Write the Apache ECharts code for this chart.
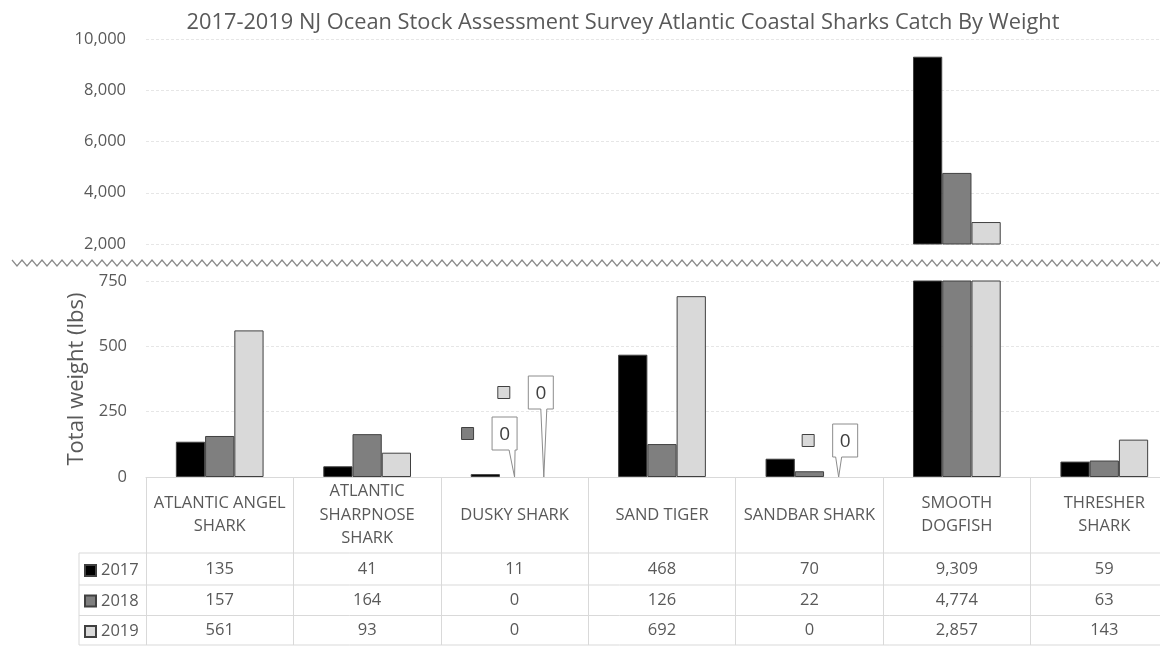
<!DOCTYPE html>
<html>
<head>
<meta charset="utf-8">
<script src="https://cdn.jsdelivr.net/npm/echarts@6/dist/echarts.min.js"></script>
<style>
  html, body { margin: 0; padding: 0; background: #ffffff; }
  #chart { width: 1160px; height: 646px; }
</style>
</head>
<body>
<div id="chart"></div>
<script>
// Species (table header text, line breaks as printed)
const categories = [
  'ATLANTIC ANGEL\nSHARK',
  'ATLANTIC\nSHARPNOSE\nSHARK',
  'DUSKY SHARK',
  'SAND TIGER',
  'SANDBAR SHARK',
  'SMOOTH\nDOGFISH',
  'THRESHER\nSHARK'
];
const years = ['2017', '2018', '2019'];

// Total catch weight (lbs)
const catch2017 = [135, 41, 11, 468, 70, 9309, 59];
const catch2018 = [157, 164, 0, 126, 22, 4774, 63];
const catch2019 = [561, 93, 0, 692, 0, 2857, 143];

// Broken value axis: upper panel and lower panel ticks
const upperTicks = [2000, 4000, 6000, 8000, 10000];
const lowerTicks = [0, 250, 500, 750];

// ---- styling ----
const FONT = "'Open Sans', sans-serif";
const TEXT = '#595959';
const yearColors = ['#000000', '#7f7f7f', '#d9d9d9'];
const barEdge = '#404040';
const tableLine = '#d9d9d9';
const GAP = 0.405;           // category gap ratio
const GRID_LEFT = 146;
const GRID_WIDTH = 1032;

// Where the zero-value callouts sit relative to their bar (dx of box centre, dy of box bottom)
const calloutNudge = {
  'DUSKY SHARK|2018': [-10, -27],
  'DUSKY SHARK|2019': [-3, -68],
  'SANDBAR SHARK|2019': [6.5, -20]
};

const yearValues = [catch2017, catch2018, catch2019];
const fmt = v => Number(v).toLocaleString('en-US');

function barData(vals) {
  return vals.map(v => v === 0 ? { value: 0, itemStyle: { borderWidth: 0 } } : v);
}

function barSeries(panel) {
  return yearValues.map((vals, s) => ({
    name: years[s],
    type: 'bar',
    xAxisIndex: panel,
    yAxisIndex: panel,
    data: barData(vals),
    barGap: '0%',
    barCategoryGap: (GAP * 100) + '%',
    clip: true,
    itemStyle: { color: yearColors[s], borderColor: barEdge, borderWidth: 1 },
    emphasis: { disabled: true },
    z: 2
  }));
}

// Points whose value is zero get a callout with the series key
const zeroPoints = [];
yearValues.forEach((vals, s) => vals.forEach((v, c) => {
  if (v === 0) zeroPoints.push([c, v, s]);
}));

function renderCallout(params, api) {
  const c = api.value(0);
  const v = api.value(1);
  const s = api.value(2);
  const p0 = api.coord([c, v]);
  const band = api.coord([1, 0])[0] - api.coord([0, 0])[0];
  const bw = band * (1 - GAP) / 3;
  const tipX = p0[0] + (s - 1) * bw;
  const tipY = p0[1];
  const nudge = calloutNudge[categories[c] + '|' + years[s]] || [0, -25];
  const w = 25, h = 33;
  const cx = tipX + nudge[0];
  const left = cx - w / 2, right = cx + w / 2;
  const bottom = tipY + nudge[1], top = bottom - h;
  const cy = (top + bottom) / 2;
  const b1 = Math.min(Math.max(tipX - 3, left + 2), right - 8);
  const b2 = b1 + 6;
  return {
    type: 'group',
    children: [
      {
        type: 'polygon',
        shape: { points: [[left, top], [right, top], [right, bottom], [b2, bottom], [tipX, tipY], [b1, bottom], [left, bottom]] },
        style: { fill: '#ffffff', stroke: '#8c8c8c', lineWidth: 1 }
      },
      {
        type: 'text',
        x: cx, y: cy + 1,
        style: {
          text: String(v),
          align: 'center', verticalAlign: 'middle',
          fontSize: 19, fontFamily: FONT, fill: '#404040'
        }
      },
      {
        type: 'rect',
        shape: { x: left - 24.5 - 6, y: cy - 6, width: 12, height: 12 },
        style: { fill: yearColors[s], stroke: barEdge, lineWidth: 1 }
      }
    ]
  };
}

// Value rows of the data table, one hidden-line axis per year
const rowMargins = [92, 123, 153];
const rowAxes = yearValues.map((vals, s) => ({
  type: 'category',
  gridIndex: 1,
  position: 'bottom',
  data: categories,
  axisLine: { show: false },
  axisTick: { show: false },
  axisLabel: {
    interval: 0,
    margin: rowMargins[s],
    verticalAlign: 'middle',
    color: TEXT, fontFamily: FONT, fontSize: 16.5,
    formatter: (val, i) => fmt(vals[i])
  }
}));

// Axis break marker
const wave = [];
for (let x = 12, i = 0; x <= 1165; x += 5, i++) wave.push([x, i % 2 ? 266 : 260]);

const rowLines = [553, 585, 615.5, 645];
const graphics = [
  { type: 'polyline', shape: { points: wave }, style: { stroke: '#8a8a8a', lineWidth: 1.2, fill: null }, silent: true, z: 10 },
  { type: 'line', shape: { x1: 79, y1: 553, x2: 79, y2: 645 }, style: { stroke: tableLine, lineWidth: 1 }, silent: true }
].concat(rowLines.map(y => ({
  type: 'line', shape: { x1: 79, y1: y, x2: 1160, y2: y }, style: { stroke: tableLine, lineWidth: 1 }, silent: true
})));

const splitStyle = { show: true, lineStyle: { color: '#e6e6e6', type: [3, 2], width: 1 } };

const option = {
  animation: false,
  backgroundColor: '#ffffff',
  title: {
    text: '2017-2019 NJ Ocean Stock Assessment Survey Atlantic Coastal Sharks Catch By Weight',
    left: 618, top: 7, textAlign: 'center',
    textStyle: { fontFamily: FONT, fontSize: 21.8, fontWeight: 'normal', color: TEXT }
  },
  legend: {
    data: years,
    orient: 'vertical',
    left: 84, top: 562,
    padding: 0,
    height: 84,
    itemWidth: 11, itemHeight: 11, itemGap: 13.5,
    icon: 'rect',
    selectedMode: false,
    textStyle: { fontFamily: FONT, fontSize: 16.5, color: TEXT }
  },
  grid: [
    { left: GRID_LEFT, width: GRID_WIDTH, top: 39, height: 205, containLabel: false, outerBoundsMode: 'none' },
    { left: GRID_LEFT, width: GRID_WIDTH, top: 281, height: 196, containLabel: false, outerBoundsMode: 'none' }
  ],
  xAxis: [
    { type: 'category', gridIndex: 0, data: categories, show: false },
    {
      type: 'category', gridIndex: 1, position: 'bottom', data: categories,
      axisLine: { show: true, lineStyle: { color: tableLine, width: 1 } },
      axisTick: { show: true, alignWithLabel: false, length: 168, lineStyle: { color: tableLine, width: 1 } },
      axisLabel: {
        interval: 0, margin: 38, verticalAlign: 'middle',
        color: TEXT, fontFamily: FONT, fontSize: 16.5, lineHeight: 23.5, align: 'center'
      }
    }
  ].concat(rowAxes),
  yAxis: [
    {
      type: 'value', gridIndex: 0,
      min: upperTicks[0], max: upperTicks[upperTicks.length - 1], interval: upperTicks[1] - upperTicks[0],
      axisLine: { show: false }, axisTick: { show: false },
      splitLine: splitStyle,
      axisLabel: { margin: 20, color: TEXT, fontFamily: FONT, fontSize: 16.5, formatter: v => fmt(v) }
    },
    {
      type: 'value', gridIndex: 1,
      min: lowerTicks[0], max: lowerTicks[lowerTicks.length - 1], interval: lowerTicks[1] - lowerTicks[0],
      axisLine: { show: false }, axisTick: { show: false },
      splitLine: splitStyle,
      axisLabel: { margin: 19, color: TEXT, fontFamily: FONT, fontSize: 16.5, formatter: v => fmt(v) },
      name: 'Total weight (lbs)',
      nameLocation: 'middle',
      nameGap: 50,
      nameTextStyle: { fontFamily: FONT, fontSize: 22, color: TEXT }
    }
  ],
  series: barSeries(0).concat(barSeries(1)).concat([{
    type: 'custom',
    xAxisIndex: 1,
    yAxisIndex: 1,
    data: zeroPoints,
    encode: { x: 0, y: 1 },
    renderItem: renderCallout,
    clip: false,
    silent: true,
    z: 5
  }]),
  graphic: graphics
};

const chart = echarts.init(document.getElementById('chart'), null, { renderer: 'canvas' });
chart.setOption(option);
</script>
</body>
</html>
